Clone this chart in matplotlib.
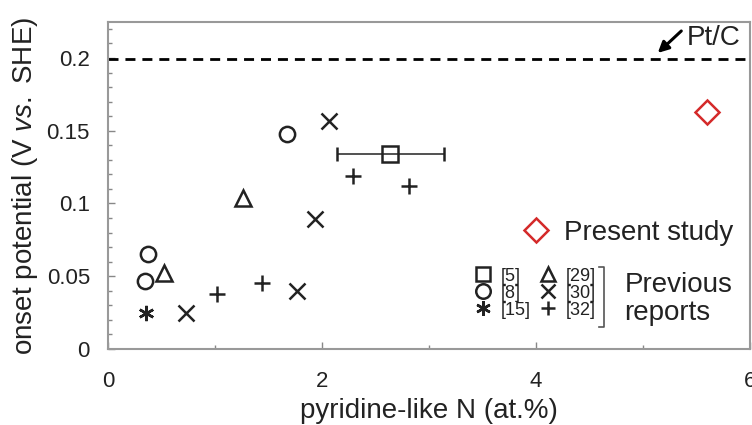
import matplotlib
matplotlib.use("Agg")
import matplotlib.pyplot as plt
from matplotlib.lines import Line2D
from matplotlib.ticker import MultipleLocator

plt.rcParams["font.family"] = ["Liberation Sans", "DejaVu Sans"]
plt.rcParams["mathtext.fontset"] = "custom"
plt.rcParams["mathtext.rm"] = "Liberation Sans"
plt.rcParams["mathtext.it"] = "Liberation Sans:italic"

# pyridine-like N (at.%) and onset potential (V vs. SHE), per reference
ref5_x, ref5_y, ref5_xerr = [2.64], [0.134], [0.5]
ref8_x, ref8_y = [0.37, 0.35, 1.67], [0.065, 0.047, 0.148]
ref15_x, ref15_y = [0.36], [0.025]
ref29_x, ref29_y = [0.52, 1.26], [0.052, 0.104]
ref30_x, ref30_y = [0.73, 1.77, 1.94, 2.07], [0.025, 0.040, 0.089, 0.157]
ref32_x, ref32_y = [1.02, 1.44, 2.29, 2.81], [0.038, 0.045, 0.119, 0.112]
present_x, present_y = [5.6], [0.163]
ptc_level = 0.1995

ref_labels = ["[5]", "[8]", "[15]", "[29]", "[30]", "[32]"]

INK = "#222222"
RED = "#d42a2a"

fig = plt.figure(figsize=(7.52, 4.25), dpi=100)
ax = fig.add_axes([0.1436, 0.179, 0.8534, 0.769])

common = dict(ls="none", color=INK, mfc="none", mew=1.8, ms=11)
ax.errorbar(ref5_x, ref5_y, xerr=ref5_xerr, fmt="s", color=INK, mfc="none",
            mew=1.8, ms=11, ecolor=INK, elinewidth=1.1, capsize=5, capthick=1.1)
h8, = ax.plot(ref8_x, ref8_y, marker="o", **common)
h15, = ax.plot(ref15_x, ref15_y, marker=(6, 2, 0), **common)
h29, = ax.plot(ref29_x, ref29_y, marker="^", **common)
h30, = ax.plot(ref30_x, ref30_y, marker="x", **common)
h32, = ax.plot(ref32_x, ref32_y, marker="+", **common)
hp, = ax.plot(present_x, present_y, ls="none", marker="D", ms=12.5, mfc="none",
              mec=RED, mew=1.8)
h5 = Line2D([], [], marker="s", **common)

# Pt/C reference level
ax.axhline(ptc_level, color="black", ls=(0, (3.6, 2.5)), lw=2)
ax.annotate("", xy=(5.14, 0.2035), xytext=(5.36, 0.2186),
            arrowprops=dict(arrowstyle="-|>", color="black", lw=2.2,
                            mutation_scale=16, shrinkA=0, shrinkB=0))
ax.text(5.41, 0.2137, "Pt/C", fontsize=20, color=INK, va="center", ha="left")

ax.set_xlim(0, 6)
ax.set_ylim(0, 0.2247)
ax.xaxis.set_major_locator(MultipleLocator(2))
ax.xaxis.set_minor_locator(MultipleLocator(1))
ax.yaxis.set_minor_locator(MultipleLocator(0.01))
ax.set_yticks([0, 0.05, 0.1, 0.15, 0.2])
ax.set_yticklabels(["0", "0.05", "0.1", "0.15", "0.2"])
ax.tick_params(which="both", direction="in", colors="#888888", labelcolor=INK,
               labelsize=16)
ax.tick_params(which="major", length=5, width=1)
ax.tick_params(which="minor", length=3, width=1)
ax.tick_params(axis="x", pad=16)
ax.tick_params(axis="y", pad=13)
for s in ax.spines.values():
    s.set_color("#999999")
    s.set_linewidth(1.5)

ax.set_xlabel("pyridine-like N (at.%)", fontsize=20, color=INK, labelpad=4)
ax.set_ylabel("onset potential (V $\\it{vs.}$ SHE)", fontsize=20, color=INK,
              labelpad=5)

leg1 = ax.legend([h5, h8, h15, h29, h30, h32], ref_labels,
                 ncol=2, loc="upper left", bbox_to_anchor=(0.570, 0.249),
                 frameon=False, fontsize=13, borderpad=0, borderaxespad=0,
                 handlelength=1.0, handletextpad=0.5, columnspacing=0.45,
                 labelspacing=0.0, markerscale=0.95)
for t in leg1.get_texts():
    t.set_color(INK)
ax.add_artist(leg1)

leg2 = ax.legend([hp], ["Present study"], loc="center left",
                 bbox_to_anchor=(0.646, 0.355), frameon=False, fontsize=20,
                 borderpad=0, borderaxespad=0, handlelength=1.0,
                 handletextpad=0.5)
for t in leg2.get_texts():
    t.set_color(INK)

# bracket grouping the previous reports
bx, by0, by1 = 0.7726, 0.067, 0.2508
ax.plot([bx - 0.007, bx, bx, bx - 0.007], [by1, by1, by0, by0],
        transform=ax.transAxes, color="#555555", lw=1.2, clip_on=False)
ax.text(0.805, 0.154, "Previous\nreports", transform=ax.transAxes, fontsize=20,
        color=INK, va="center", ha="left", linespacing=1.1)

fig.savefig("out.png", dpi=100)
